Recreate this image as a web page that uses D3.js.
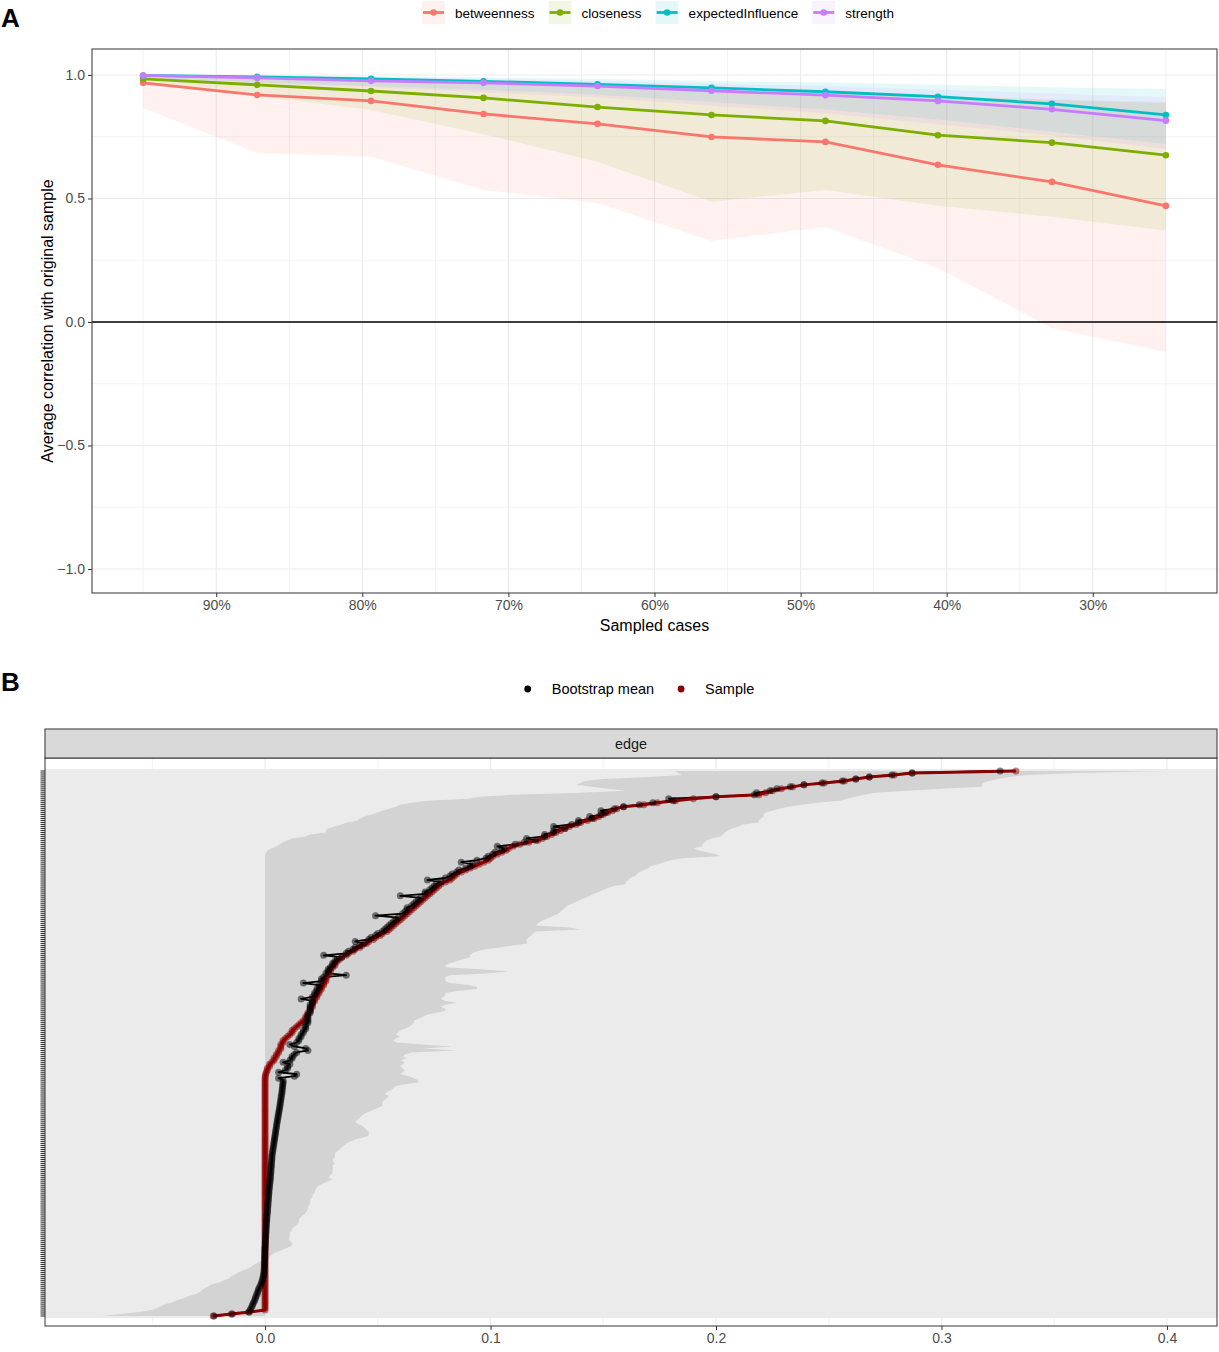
<!DOCTYPE html>
<html>
<head>
<meta charset="utf-8">
<script src="https://d3js.org/d3.v7.min.js"></script>
<style>
  body { margin: 0; background: #fff; }
  svg { display: block; font-family: "Liberation Sans", Arial, Helvetica, sans-serif; }
</style>
</head>
<body>
<svg id="chart" width="1219" height="1352">
  <g id="panelA"/>
  <g id="panelB"/>
</svg>
<script>
// ---------- panel A: centrality stability ----------
const measures = ["betweenness", "closeness", "expectedInfluence", "strength"];
const measureColors = ["#F8766D", "#7CAE00", "#00BFC4", "#C77CFF"];
const sampledPct = [95, 87.2, 79.4, 71.7, 63.9, 56.1, 48.3, 40.6, 32.8, 25];
const pctTicks = [90, 80, 70, 60, 50, 40, 30];
const corTicks = [-1, -0.5, 0, 0.5, 1];

const betweennessMean  = [0.968, 0.919, 0.895, 0.842, 0.802, 0.749, 0.729, 0.636, 0.567, 0.470];
const betweennessLower = [0.866, 0.684, 0.669, 0.534, 0.482, 0.328, 0.385, 0.219, -0.024, -0.121];
const betweennessUpper = [1.000, 0.985, 0.975, 0.965, 0.950, 0.935, 0.925, 0.910, 0.900, 0.890];
const closenessMean    = [0.984, 0.960, 0.935, 0.907, 0.870, 0.838, 0.814, 0.756, 0.726, 0.675];
const closenessLower   = [0.960, 0.915, 0.858, 0.760, 0.649, 0.487, 0.534, 0.471, 0.426, 0.370];
const closenessUpper   = [1.000, 0.990, 0.980, 0.970, 0.955, 0.940, 0.930, 0.915, 0.900, 0.885];
const expInfMean       = [0.998, 0.992, 0.984, 0.974, 0.962, 0.948, 0.932, 0.912, 0.883, 0.838];
const expInfLower      = [0.990, 0.970, 0.955, 0.940, 0.920, 0.890, 0.860, 0.820, 0.770, 0.720];
const expInfUpper      = [1.000, 1.000, 0.995, 0.990, 0.985, 0.975, 0.970, 0.960, 0.950, 0.943];
const strengthMean     = [0.998, 0.988, 0.976, 0.968, 0.955, 0.936, 0.918, 0.895, 0.861, 0.815];
const strengthLower    = [0.990, 0.965, 0.950, 0.930, 0.910, 0.875, 0.845, 0.800, 0.755, 0.700];
const strengthUpper    = [1.000, 0.995, 0.990, 0.985, 0.975, 0.965, 0.955, 0.940, 0.925, 0.910];

// ---------- panel B: edge weights, sorted by sample value (top row first) ----------
const sampleVals = [
  0.333, 0.287, 0.279, 0.268, 0.262, 0.257, 0.248, 0.239, 0.234, 0.229,
  0.225, 0.222, 0.219, 0.200, 0.190, 0.182, 0.174, 0.168, 0.159, 0.156,
  0.154, 0.152, 0.150, 0.148, 0.146, 0.143, 0.140, 0.138, 0.135, 0.133,
  0.131, 0.129, 0.127, 0.125, 0.123, 0.121, 0.117, 0.113, 0.110, 0.108,
  0.107, 0.105, 0.103, 0.101, 0.100, 0.099, 0.097, 0.095, 0.093, 0.091,
  0.089, 0.087, 0.085, 0.084, 0.083, 0.082, 0.080, 0.078, 0.077, 0.076,
  0.075, 0.074, 0.073, 0.072, 0.071, 0.070, 0.069, 0.068, 0.067, 0.066,
  0.065, 0.064, 0.063, 0.062, 0.061, 0.060, 0.059, 0.058, 0.057, 0.056,
  0.055, 0.054, 0.052, 0.051, 0.049, 0.048, 0.046, 0.045, 0.043, 0.042,
  0.040, 0.039, 0.037, 0.036, 0.034, 0.033, 0.032, 0.031, 0.031, 0.030,
  0.029, 0.029, 0.028, 0.028, 0.027, 0.027, 0.027, 0.026, 0.026, 0.025,
  0.025, 0.024, 0.024, 0.023, 0.023, 0.022, 0.022, 0.021, 0.021, 0.021,
  0.020, 0.020, 0.019, 0.019, 0.018, 0.018, 0.017, 0.016, 0.015, 0.014,
  0.013, 0.012, 0.012, 0.011, 0.010, 0.009, 0.008, 0.008, 0.007, 0.007,
  0.007, 0.006, 0.006, 0.005, 0.005, 0.004, 0.004, 0.003, 0.002, 0.002,
  0.001, 0.001, 0.0005, 0.0003, 0.0001, 0, 0, 0, 0, 0,
  0, 0, 0, 0, 0, 0, 0, 0, 0, 0,
  0, 0, 0, 0, 0, 0, 0, 0, 0, 0,
  0, 0, 0, 0, 0, 0, 0, 0, 0, 0,
  0, 0, 0, 0, 0, 0, 0, 0, 0, 0,
  0, 0, 0, 0, 0, 0, 0, 0, 0, 0,
  0, 0, 0, 0, 0, 0, 0, 0, 0, 0,
  0, 0, 0, 0, 0, 0, 0, 0, 0, 0,
  0, 0, 0, 0, 0, 0, 0, 0, 0, 0,
  0, 0, 0, 0, 0, 0, 0, 0, 0, 0,
  0, 0, 0, 0, 0, 0, 0, 0, 0, 0,
  0, 0, 0, 0, 0, 0, 0, 0, 0, 0,
  0, 0, 0, -0.007, -0.015, -0.023
];
const meanVals = [
  0.326, 0.287, 0.278, 0.268, 0.262, 0.256, 0.247, 0.239, 0.233, 0.227,
  0.224, 0.218, 0.217, 0.200, 0.179, 0.181, 0.172, 0.166, 0.159, 0.155,
  0.149, 0.151, 0.149, 0.144, 0.145, 0.139, 0.139, 0.136, 0.128, 0.133,
  0.128, 0.128, 0.124, 0.124, 0.116, 0.120, 0.115, 0.111, 0.103, 0.106,
  0.105, 0.102, 0.101, 0.099, 0.098, 0.094, 0.087, 0.092, 0.091, 0.089,
  0.086, 0.085, 0.083, 0.082, 0.080, 0.072, 0.078, 0.076, 0.075, 0.074,
  0.073, 0.071, 0.071, 0.060, 0.069, 0.068, 0.067, 0.066, 0.065, 0.063,
  0.063, 0.062, 0.061, 0.049, 0.059, 0.058, 0.057, 0.056, 0.055, 0.054,
  0.053, 0.052, 0.050, 0.049, 0.047, 0.046, 0.040, 0.044, 0.042, 0.040,
  0.039, 0.037, 0.036, 0.026, 0.034, 0.032, 0.031, 0.030, 0.030, 0.029,
  0.028, 0.028, 0.027, 0.036, 0.026, 0.025, 0.025, 0.017, 0.024, 0.024,
  0.023, 0.023, 0.022, 0.022, 0.021, 0.016, 0.021, 0.021, 0.020, 0.020,
  0.020, 0.020, 0.020, 0.019, 0.019, 0.019, 0.019, 0.019, 0.018, 0.018,
  0.018, 0.017, 0.017, 0.016, 0.016, 0.015, 0.015, 0.014, 0.011, 0.013,
  0.018, 0.019, 0.014, 0.013, 0.012, 0.012, 0.011, 0.008, 0.011, 0.010,
  0.010, 0.009, 0.006, 0.014, 0.013, 0.006, 0.008, 0.0080, 0.0079, 0.0078,
  0.0077, 0.0076, 0.0075, 0.0074, 0.0072, 0.0071, 0.0070, 0.0068, 0.0067, 0.0066,
  0.0064, 0.0063, 0.0061, 0.0060, 0.0058, 0.0057, 0.0055, 0.0054, 0.0052, 0.0051,
  0.0050, 0.0048, 0.0047, 0.0046, 0.0044, 0.0043, 0.0042, 0.0040, 0.0039, 0.0038,
  0.0036, 0.0035, 0.0034, 0.0032, 0.0031, 0.0030, 0.0030, 0.0029, 0.0028, 0.0028,
  0.0027, 0.0026, 0.0026, 0.0025, 0.0024, 0.0024, 0.0023, 0.0022, 0.0021, 0.0020,
  0.0019, 0.0018, 0.0017, 0.0017, 0.0016, 0.0015, 0.0015, 0.0014, 0.0013, 0.0013,
  0.0012, 0.0011, 0.0011, 0.0010, 0.0009, 0.0008, 0.0008, 0.0007, 0.0006, 0.0006,
  0.0005, 0.0005, 0.0004, 0.0004, 0.0003, 0.0003, 0.0002, 0.0002, 0.0001, 0.0001,
  0, 0, -0.0001, -0.0001, -0.0001, -0.0002, -0.0002, -0.0002, -0.0003, -0.0003,
  -0.0003, -0.0004, -0.0004, -0.0005, -0.0006, -0.0008, -0.0010, -0.0012, -0.0015, -0.0018,
  -0.0022, -0.0027, -0.0030, -0.0033, -0.0036, -0.0040, -0.0043, -0.0046, -0.0050, -0.0054,
  -0.0057, -0.0062, -0.0066, -0.0072, -0.0145, -0.0226
];
const lowerVals = [
  0.182, 0.183, 0.185, 0.170, 0.150, 0.142, 0.140, 0.138, 0.145, 0.152,
  0.160, 0.140, 0.110, 0.095, 0.090, 0.072, 0.065, 0.060, 0.058, 0.055,
  0.052, 0.050, 0.047, 0.044, 0.042, 0.041, 0.036, 0.034, 0.031, 0.028,
  0.027, 0.027, 0.020, 0.018, 0.012, 0.010, 0.008, 0.0065, 0.005, 0.003,
  0.001, 0.0005, 0, 0, 0, 0, 0, 0, 0, 0,
  0, 0, 0, 0, 0, 0, 0, 0, 0, 0,
  0, 0, 0, 0, 0, 0, 0, 0, 0, 0,
  0, 0, 0, 0, 0, 0, 0, 0, 0, 0,
  0, 0, 0, 0, 0, 0, 0, 0, 0, 0,
  0, 0, 0, 0, 0, 0, 0, 0, 0, 0,
  0, 0, 0, 0, 0, 0, 0, 0, 0, 0,
  0, 0, 0, 0, 0, 0, 0, 0, 0, 0,
  0, 0, 0, 0, 0, 0, 0, 0, 0, 0,
  0, 0, 0, 0, 0, 0, 0, 0, 0, 0,
  0, 0, 0, 0, 0, 0, 0, 0, 0, 0,
  0, 0, 0, 0, 0, 0, 0, 0, 0, 0,
  0, 0, 0, 0, 0, 0, 0, 0, 0, 0,
  0, 0, 0, 0, 0, 0, 0, 0, 0, 0,
  0, 0, 0, 0, 0, 0, 0, 0, 0, 0,
  0, 0, 0, 0, 0, 0, 0, 0, 0, 0,
  0, 0, 0, 0, 0, 0, 0, 0, 0, 0,
  0, 0, 0, 0, 0, 0, 0, 0, 0, 0,
  0, 0, 0, 0, 0, 0, 0, 0, 0, 0,
  0, 0, 0, 0, 0, 0, 0, 0, 0, 0,
  0, 0, 0, 0, 0, 0, 0, -0.001, -0.003, -0.005,
  -0.006, -0.0074, -0.010, -0.012, -0.0133, -0.015, -0.016, -0.018, -0.020, -0.0236,
  -0.025, -0.027, -0.028, -0.029, -0.031, -0.034, -0.036, -0.039, -0.041, -0.044,
  -0.046, -0.048, -0.0503, -0.056, -0.064, -0.072
];
const upperVals = [
  0.399, 0.360, 0.338, 0.330, 0.325, 0.321, 0.318, 0.318, 0.318, 0.300,
  0.285, 0.270, 0.266, 0.262, 0.258, 0.255, 0.245, 0.238, 0.232, 0.228,
  0.225, 0.222, 0.221, 0.221, 0.220, 0.219, 0.219, 0.212, 0.210, 0.207,
  0.205, 0.204, 0.203, 0.202, 0.198, 0.196, 0.195, 0.194, 0.194, 0.190,
  0.192, 0.196, 0.200, 0.202, 0.185, 0.180, 0.177, 0.174, 0.171, 0.170,
  0.168, 0.166, 0.165, 0.164, 0.162, 0.161, 0.160, 0.160, 0.155, 0.152,
  0.150, 0.148, 0.146, 0.144, 0.142, 0.140, 0.138, 0.136, 0.134, 0.133,
  0.132, 0.131, 0.130, 0.128, 0.126, 0.124, 0.122, 0.121, 0.120, 0.135,
  0.140, 0.120, 0.119, 0.118, 0.117, 0.116, 0.116, 0.116, 0.110, 0.104,
  0.098, 0.094, 0.092, 0.091, 0.091, 0.088, 0.085, 0.082, 0.080, 0.080,
  0.095, 0.108, 0.100, 0.082, 0.080, 0.080, 0.080, 0.082, 0.090, 0.094,
  0.094, 0.085, 0.080, 0.080, 0.079, 0.078, 0.080, 0.085, 0.080, 0.078,
  0.080, 0.080, 0.076, 0.072, 0.070, 0.068, 0.066, 0.066, 0.065, 0.064,
  0.062, 0.060, 0.059, 0.058, 0.060, 0.058, 0.057, 0.058, 0.070, 0.083,
  0.070, 0.085, 0.065, 0.062, 0.061, 0.063, 0.060, 0.062, 0.061, 0.060,
  0.061, 0.062, 0.061, 0.060, 0.064, 0.066, 0.068, 0.068, 0.062, 0.058,
  0.057, 0.056, 0.054, 0.053, 0.055, 0.054, 0.053, 0.052, 0.052, 0.052,
  0.050, 0.048, 0.046, 0.044, 0.043, 0.042, 0.041, 0.040, 0.041, 0.043,
  0.044, 0.045, 0.046, 0.046, 0.046, 0.043, 0.040, 0.038, 0.036, 0.035,
  0.034, 0.033, 0.032, 0.031, 0.031, 0.031, 0.030, 0.030, 0.031, 0.030,
  0.030, 0.030, 0.030, 0.030, 0.029, 0.028, 0.030, 0.028, 0.026, 0.024,
  0.023, 0.0225, 0.022, 0.022, 0.021, 0.021, 0.020, 0.020, 0.020, 0.0195,
  0.019, 0.019, 0.0185, 0.018, 0.017, 0.016, 0.015, 0.015, 0.015, 0.014,
  0.013, 0.012, 0.012, 0.011, 0.011, 0.011, 0.0106, 0.011, 0.012, 0.012,
  0.011, 0.009, 0.007, 0.0047, 0.003, 0.002, 0.0018, 0.001, 0, 0,
  0, 0, 0, 0, 0, 0, 0, 0, 0, 0,
  0, 0, 0, 0, 0, 0, 0, 0, 0, 0,
  0, 0, 0, 0, 0, 0
];
const edgeTicks = [0, 0.1, 0.2, 0.3, 0.4];
const legendB = ["Bootstrap mean", "Sample"];
const legendBColors = ["#000000", "#8B0000"];

const grid = "#EBEBEB", frame = "#333333", tickText = "#4D4D4D";
const svg = d3.select("#chart");

function styleAxis(g, size) {
  g.select(".domain").remove();
  g.selectAll(".tick line").attr("stroke", frame).attr("stroke-width", 1);
  g.selectAll(".tick text").attr("fill", tickText).attr("font-size", size);
}

function drawPanelA() {
  const g = svg.select("#panelA");
  const x = d3.scaleLinear().domain([98.5, 21.5]).range([92, 1217]);
  const y = d3.scaleLinear().domain([-1.097, 1.105]).range([593, 49]);
  const [x0, x1] = x.range(), [y1, y0] = y.range();

  const series = [
    { mean: betweennessMean, lower: betweennessLower, upper: betweennessUpper },
    { mean: closenessMean, lower: closenessLower, upper: closenessUpper },
    { mean: expInfMean, lower: expInfLower, upper: expInfUpper },
    { mean: strengthMean, lower: strengthLower, upper: strengthUpper }
  ];

  g.append("rect").attr("x", x0).attr("y", y0).attr("width", x1 - x0).attr("height", y1 - y0).attr("fill", "#fff");

  // minor then major grid
  const xMinor = pctTicks.map(d => d + 5).concat([25]);
  const yMinor = [-0.75, -0.25, 0.25, 0.75];
  g.append("g").selectAll("line").data(xMinor).join("line")
    .attr("x1", d => x(d)).attr("x2", d => x(d)).attr("y1", y0).attr("y2", y1)
    .attr("stroke", grid).attr("stroke-width", 0.6);
  g.append("g").selectAll("line").data(yMinor).join("line")
    .attr("y1", d => y(d)).attr("y2", d => y(d)).attr("x1", x0).attr("x2", x1)
    .attr("stroke", grid).attr("stroke-width", 0.6);
  g.append("g").selectAll("line").data(pctTicks).join("line")
    .attr("x1", d => x(d)).attr("x2", d => x(d)).attr("y1", y0).attr("y2", y1)
    .attr("stroke", grid).attr("stroke-width", 1.1);
  g.append("g").selectAll("line").data(corTicks).join("line")
    .attr("y1", d => y(d)).attr("y2", d => y(d)).attr("x1", x0).attr("x2", x1)
    .attr("stroke", grid).attr("stroke-width", 1.1);

  const area = d3.area().x((d, i) => x(sampledPct[i])).y0(d => y(d[0])).y1(d => y(d[1]));
  const line = d3.line().x((d, i) => x(sampledPct[i])).y(d => y(d));

  series.forEach((s, k) => {
    g.append("path").datum(s.lower.map((v, i) => [v, s.upper[i]]))
      .attr("d", area).attr("fill", measureColors[k]).attr("fill-opacity", 0.1);
  });

  g.append("line").attr("x1", x0).attr("x2", x1).attr("y1", y(0)).attr("y2", y(0))
    .attr("stroke", "#000").attr("stroke-width", 1.3);

  series.forEach((s, k) => {
    g.append("path").datum(s.mean).attr("d", line).attr("fill", "none")
      .attr("stroke", measureColors[k]).attr("stroke-width", 2.8);
    g.append("g").selectAll("circle").data(s.mean).join("circle")
      .attr("cx", (d, i) => x(sampledPct[i])).attr("cy", d => y(d)).attr("r", 3.3)
      .attr("fill", measureColors[k]);
  });

  g.append("rect").attr("x", x0).attr("y", y0).attr("width", x1 - x0).attr("height", y1 - y0)
    .attr("fill", "none").attr("stroke", frame).attr("stroke-width", 1);

  g.append("g").attr("transform", `translate(0,${y1})`)
    .call(d3.axisBottom(x).tickValues(pctTicks).tickFormat(d => d + "%").tickSize(4).tickPadding(3))
    .call(a => styleAxis(a, 14));
  g.append("g").attr("transform", `translate(${x0},0)`)
    .call(d3.axisLeft(y).tickValues(corTicks).tickFormat(d3.format(".1f")).tickSize(4).tickPadding(3))
    .call(a => styleAxis(a, 14));

  g.append("text").text("Sampled cases").attr("x", (x0 + x1) / 2).attr("y", 631)
    .attr("text-anchor", "middle").attr("font-size", 16).attr("fill", "#000");
  g.append("text").text("Average correlation with original sample")
    .attr("transform", `translate(53,${(y0 + y1) / 2}) rotate(-90)`)
    .attr("text-anchor", "middle").attr("font-size", 16).attr("fill", "#000");

  // legend
  const leg = g.append("g");
  let cx = 0;
  measures.forEach((m, k) => {
    const item = leg.append("g").attr("transform", `translate(${cx},0)`);
    item.append("rect").attr("x", 0).attr("y", 1).attr("width", 23).attr("height", 23)
      .attr("fill", measureColors[k]).attr("fill-opacity", 0.1);
    item.append("line").attr("x1", 1).attr("x2", 22).attr("y1", 12.5).attr("y2", 12.5)
      .attr("stroke", measureColors[k]).attr("stroke-width", 2.8);
    item.append("circle").attr("cx", 11.5).attr("cy", 12.5).attr("r", 3.3).attr("fill", measureColors[k]);
    const t = item.append("text").text(m).attr("x", 33).attr("y", 17.5)
      .attr("font-size", 13.5).attr("fill", "#000");
    cx += 33 + t.node().getComputedTextLength() + 14;
  });
  leg.attr("transform", `translate(${658 - (cx - 14) / 2},0)`);

  svg.append("text").text("A").attr("x", 1).attr("y", 27)
    .attr("font-size", 26).attr("font-weight", "bold").attr("fill", "#000");
}

function drawPanelB() {
  const g = svg.select("#panelB");
  const n = sampleVals.length;
  const x = d3.scaleLinear().domain([-0.0976, 0.4222]).range([45, 1217]);
  const y = d3.scalePoint().domain(d3.range(n)).range([771, 1316]);
  const [x0, x1] = x.range(), y0 = 758, y1 = 1326;

  g.append("rect").attr("x", x0).attr("y", y0).attr("width", x1 - x0).attr("height", y1 - y0).attr("fill", "#fff");

  const xMinor = [-0.05, 0.05, 0.15, 0.25, 0.35];
  g.append("g").selectAll("line").data(xMinor).join("line")
    .attr("x1", d => x(d)).attr("x2", d => x(d)).attr("y1", y0).attr("y2", y1)
    .attr("stroke", grid).attr("stroke-width", 0.6);
  g.append("g").selectAll("line").data(edgeTicks).join("line")
    .attr("x1", d => x(d)).attr("x2", d => x(d)).attr("y1", y0).attr("y2", y1)
    .attr("stroke", grid).attr("stroke-width", 1.1);
  // one horizontal grid line per edge; packed this tightly they merge into a band
  g.append("g").attr("shape-rendering", "crispEdges")
    .selectAll("line").data(d3.range(n)).join("line")
    .attr("x1", x0).attr("x2", x1).attr("y1", d => y(d)).attr("y2", d => y(d))
    .attr("stroke", grid).attr("stroke-width", 3.2);

  const ci = d3.area().y((d, i) => y(i)).x0(d => x(d[0])).x1(d => x(d[1]));
  g.append("path").datum(lowerVals.map((v, i) => [v, upperVals[i]]))
    .attr("d", ci).attr("fill", "#D3D3D3");

  const line = d3.line().x(d => x(d)).y((d, i) => y(i));
  g.append("path").datum(meanVals).attr("d", line).attr("fill", "none")
    .attr("stroke", "#000").attr("stroke-width", 1.8).attr("stroke-linejoin", "round");
  g.append("path").datum(sampleVals).attr("d", line).attr("fill", "none")
    .attr("stroke", "#8B0000").attr("stroke-width", 3).attr("stroke-linejoin", "round");
  g.append("g").selectAll("circle").data(sampleVals).join("circle")
    .attr("cx", d => x(d)).attr("cy", (d, i) => y(i)).attr("r", 3.5)
    .attr("fill", "#8B0000").attr("fill-opacity", 0.5);
  g.append("g").selectAll("circle").data(meanVals).join("circle")
    .attr("cx", d => x(d)).attr("cy", (d, i) => y(i)).attr("r", 3.5)
    .attr("fill", "#000").attr("fill-opacity", 0.5);

  g.append("rect").attr("x", x0).attr("y", y0).attr("width", x1 - x0).attr("height", y1 - y0)
    .attr("fill", "none").attr("stroke", frame).attr("stroke-width", 1);

  // strip
  g.append("rect").attr("x", x0).attr("y", 729).attr("width", x1 - x0).attr("height", y0 - 729)
    .attr("fill", "#D9D9D9").attr("stroke", frame).attr("stroke-width", 1);
  g.append("text").text("edge").attr("x", (x0 + x1) / 2).attr("y", 748.5)
    .attr("text-anchor", "middle").attr("font-size", 14.4).attr("fill", "#1A1A1A");

  // left ticks, one per edge, no labels
  g.append("g").selectAll("line").data(d3.range(n)).join("line")
    .attr("x1", x0 - 4.5).attr("x2", x0).attr("y1", d => y(d)).attr("y2", d => y(d))
    .attr("stroke", frame).attr("stroke-width", 1.1);

  g.append("g").attr("transform", `translate(0,${y1})`)
    .call(d3.axisBottom(x).tickValues(edgeTicks).tickFormat(d3.format(".1f")).tickSize(4).tickPadding(3))
    .call(a => styleAxis(a, 14));

  // legend
  const leg = g.append("g");
  let cx = 0;
  legendB.forEach((name, k) => {
    const item = leg.append("g").attr("transform", `translate(${cx},0)`);
    item.append("circle").attr("cx", 12).attr("cy", 689).attr("r", 3.4).attr("fill", legendBColors[k]);
    const t = item.append("text").text(name).attr("x", 36).attr("y", 694.3)
      .attr("font-size", 14.5).attr("fill", "#000");
    cx += 36 + t.node().getComputedTextLength() + 15;
  });
  leg.attr("transform", `translate(${635 - (cx - 15) / 2},0)`);

  svg.append("text").text("B").attr("x", 1).attr("y", 691)
    .attr("font-size", 26).attr("font-weight", "bold").attr("fill", "#000");
}

drawPanelA();
drawPanelB();
</script>
</body>
</html>
